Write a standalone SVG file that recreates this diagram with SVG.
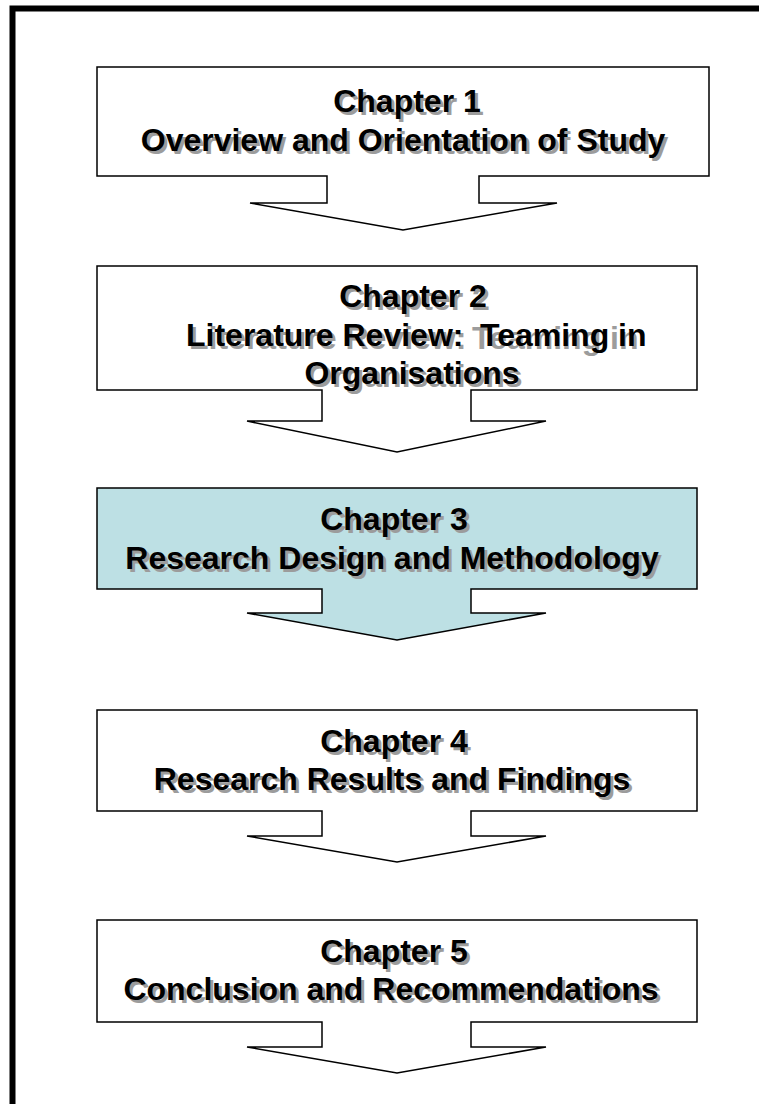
<svg xmlns="http://www.w3.org/2000/svg" width="759" height="1104" viewBox="0 0 759 1104">
<style>
.frame{fill:none;stroke:#000;stroke-width:6}
.shape{fill:#fff;stroke:#000;stroke-width:1.5;stroke-linejoin:miter}
.hl{fill:#bde0e4}
.t{font-family:"Liberation Sans",Arial,sans-serif;font-weight:bold;font-size:32px;text-anchor:middle;fill:#000}
.s{fill:#9c9c9c}
.l{text-anchor:start}
</style>
<rect width="759" height="1104" fill="#fff"/>
<rect class="frame" x="12.5" y="8.5" width="800" height="1200"/>
<g id="connectors"></g>
<g id="node1">
<path class="shape" d="M97,67 H709 V176 H479 V203 H557 L403,230 L250,203 H327 V176 H97 Z"/>
<text class="t s" x="410" y="115">Chapter 1</text>
<text class="t" x="407" y="112">Chapter 1</text>
<text class="t s" x="406" y="154">Overview and Orientation of Study</text>
<text class="t" x="403" y="151">Overview and Orientation of Study</text>
</g>
<g id="node2">
<path class="shape" d="M97,266 H697 V390 H471 V421 H546 L397,452 L247,421 H322 V390 H97 Z"/>
<text class="t s" x="416" y="310">Chapter 2</text>
<text class="t" x="413" y="307">Chapter 2</text>
<text class="t s l" x="189" y="349">Literature Review:</text>
<text class="t l" x="186" y="346">Literature Review:</text>
<text class="t s l" x="472" y="349">Teaming in</text>
<text class="t l" x="480" y="346">Teaming</text>
<text class="t l" x="618" y="346">in</text>
<text class="t s" x="415" y="387">Organisations</text>
<text class="t" x="412" y="384">Organisations</text>
</g>
<g id="node3">
<path class="shape hl" d="M97,488 H697 V589 H471 V613 H546 L397,640 L247,613 H322 V589 H97 Z"/>
<text class="t s" x="397" y="533">Chapter 3</text>
<text class="t" x="394" y="530">Chapter 3</text>
<text class="t s" x="395" y="572">Research Design and Methodology</text>
<text class="t" x="392" y="569">Research Design and Methodology</text>
</g>
<g id="node4">
<path class="shape" d="M97,710 H697 V811 H471 V836 H546 L397,862 L247,836 H322 V811 H97 Z"/>
<text class="t s" x="397" y="755">Chapter 4</text>
<text class="t" x="394" y="752">Chapter 4</text>
<text class="t s" x="395" y="793">Research Results and Findings</text>
<text class="t" x="392" y="790">Research Results and Findings</text>
</g>
<g id="node5">
<path class="shape" d="M97,920 H697 V1022 H471 V1047 H546 L397,1073 L247,1047 H322 V1022 H97 Z"/>
<text class="t s" x="397" y="965">Chapter 5</text>
<text class="t" x="394" y="962">Chapter 5</text>
<text class="t s" x="394" y="1003">Conclusion and Recommendations</text>
<text class="t" x="391" y="1000">Conclusion and Recommendations</text>
</g>
</svg>
